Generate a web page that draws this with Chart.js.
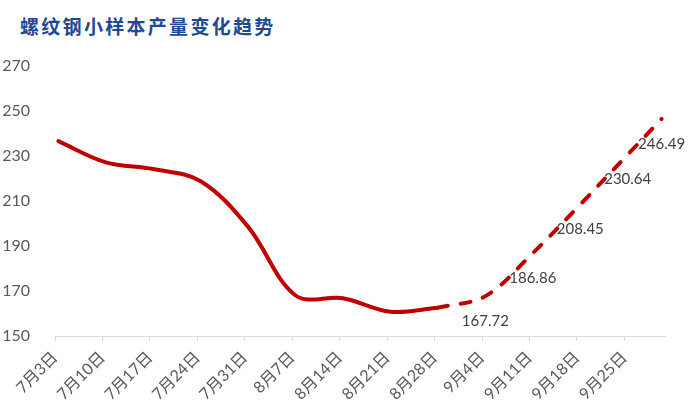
<!DOCTYPE html>
<html><head><meta charset="utf-8">
<script src="https://cdn.jsdelivr.net/npm/chart.js@4.4.0/dist/chart.umd.min.js"></script>
<style>
html,body{margin:0;padding:0;background:#fff;}
#wrap{position:relative;width:700px;height:420px;overflow:hidden;}
#title{position:absolute;left:20px;top:13px;font-family:'Noto Sans CJK SC',sans-serif;font-weight:700;font-size:19px;letter-spacing:2.3px;color:#1F4A91;line-height:26px;white-space:nowrap;}
canvas{position:absolute;left:0;top:0;}
</style></head><body>
<div id="wrap"><div id="title">螺纹钢小样本产量变化趋势</div><canvas id="c" width="700" height="420"></canvas></div>
<script>
// ---- data ----
const tickLabels = ['7月3日','7月10日','7月17日','7月24日','7月31日','8月7日','8月14日','8月21日','8月28日','9月4日','9月11日','9月18日','9月25日'];
const actualDates = ['7月3日','7月10日','7月17日','7月24日','7月31日','8月7日','8月14日','8月21日','8月28日'];
const actualValues = [236.6, 227.2, 224.2, 218.8, 198.5, 168.0, 166.8, 160.8, 162.6];
const forecastDates = ['8月28日','9月4日','9月11日','9月18日','9月25日','9月30日'];
const forecastValues = [162.6, 167.72, 186.86, 208.45, 230.64, 246.49];
const yTicks = [150, 170, 190, 210, 230, 250, 270];

// ---- helpers ----
function dayIndex(s){
  const m = s.match(/(\d+)月(\d+)日/);
  const d = new Date(2023, +m[1]-1, +m[2]);
  const m0 = tickLabels[0].match(/(\d+)月(\d+)日/);
  const s0 = new Date(2023, +m0[1]-1, +m0[2]);
  return Math.round((d - s0)/86400000);
}
const toPts = (dates, vals) => dates.map((d,i)=>({x: dayIndex(d)+0.5, y: vals[i]}));
const RED = '#C00000';
const FONT = "Lato, 'Noto Sans CJK SC', sans-serif";

const labelPlugin = {
  id:'fcLabels',
  afterDatasetsDraw(chart){
    const meta = chart.getDatasetMeta(1);
    const ctx = chart.ctx;
    ctx.save();
    ctx.font = "15px " + FONT;
    ctx.fillStyle = '#404040';
    ctx.textAlign = 'center';
    ctx.textBaseline = 'middle';
    meta.data.forEach((el,i)=>{
      if(i===0) return;
      ctx.fillText(forecastValues[i].toFixed(2), el.x, el.y + 25);
    });
    ctx.restore();
  }
};

new Chart(document.getElementById('c'), {
  type:'line',
  data:{
    datasets:[
      {data: toPts(actualDates, actualValues), borderColor:RED, borderWidth:4, pointRadius:0, tension:0.35, borderCapStyle:'round', borderJoinStyle:'round', fill:false},
      {data: toPts(forecastDates, forecastValues), borderColor:RED, borderWidth:4, pointRadius:0, tension:0.35, borderCapStyle:'round', borderJoinStyle:'round', borderDash:[10,13], fill:false}
    ]
  },
  options:{
    responsive:false,
    animation:false,
    layout:{padding:{top:66, right:35, bottom:0, left:0}},
    plugins:{legend:{display:false}, tooltip:{enabled:false}},
    scales:{
      x:{
        type:'linear', min:0, max:90,
        afterBuildTicks(axis){ axis.ticks = tickLabels.map(l=>({value: dayIndex(l)})); },
        afterFit(s){ s.height = 84; },
        ticks:{
          autoSkip:false, minRotation:45, maxRotation:45, padding:7,
          color:'#595959', font:{family:FONT, size:16},
          callback:(v,i)=>tickLabels[i]
        },
        grid:{drawOnChartArea:false, drawTicks:true, tickLength:5, color:'#d9d9d9'},
        border:{color:'#d9d9d9', width:1}
      },
      y:{
        min:yTicks[0], max:yTicks[yTicks.length-1],
        afterBuildTicks(axis){ axis.ticks = yTicks.map(v=>({value:v})); },
        afterFit(s){ s.width = 55; },
        ticks:{color:'#595959', font:{family:FONT, size:16}, padding:17},
        grid:{display:false},
        border:{display:false}
      }
    }
  },
  plugins:[labelPlugin]
});
</script>
</body></html>
